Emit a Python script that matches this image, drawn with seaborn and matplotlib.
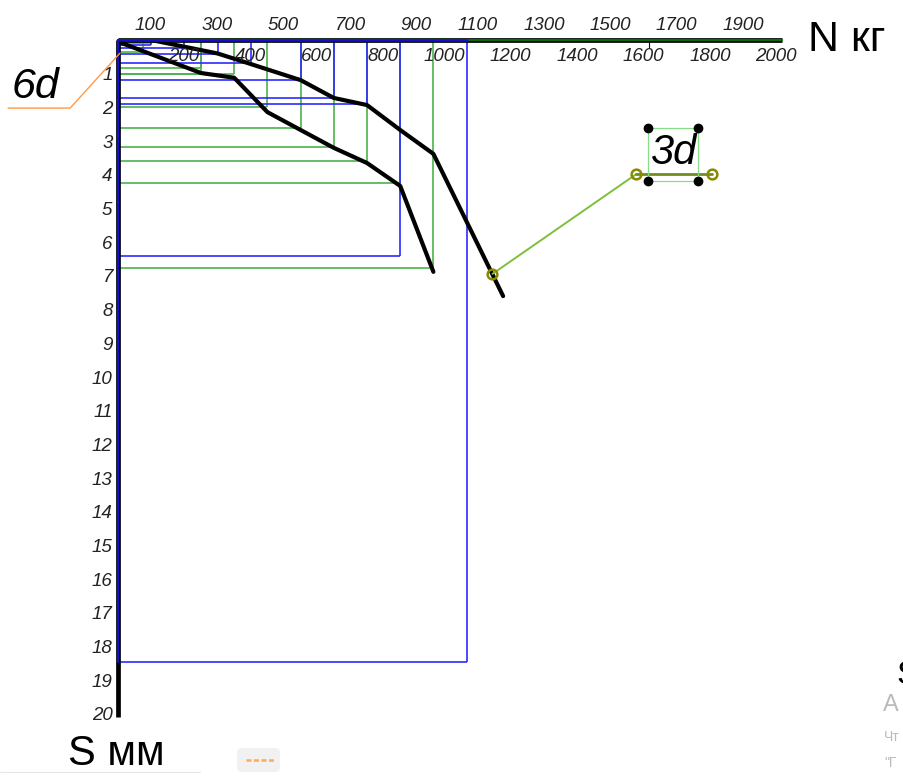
import pandas as pd
import seaborn as sns
import matplotlib.pyplot as plt
from matplotlib.patches import Rectangle, FancyBboxPatch

# кривые осадки сваи (N кг -> S мм)
load_a = [0, 250, 350, 450, 550, 650, 750, 850, 950]
settle_a = [0.05, 0.98, 1.12, 2.14, 2.67, 3.2, 3.65, 4.33, 6.88]
load_b = [0, 100, 300, 380, 550, 650, 750, 850, 950, 1160]
settle_b = [0, 0, 0.4, 0.65, 1.19, 1.72, 1.93, 2.67, 3.38, 7.6]

# проекции точек на оси
green_n = [100, 75, 250, 250, 350, 450, 550, 650, 750, 850, 950]
green_s = [0.1, 0.35, 0.83, 1.0, 1.0, 2.0, 2.6, 3.18, 3.6, 4.25, 6.77]
blue_n = [100, 200, 300, 400, 550, 650, 750, 850, 1050]
blue_s = [0.15, 0.25, 0.42, 0.68, 1.19, 1.72, 1.9, 6.4, 18.45]

x_ticks = list(range(100, 2001, 100))
y_ticks = list(range(1, 21))

sns.set_theme(style="white")
plt.rcParams["font.family"] = ["Liberation Sans", "DejaVu Sans"]

fig = plt.figure(figsize=(9.04, 7.76), dpi=100)
ax = fig.add_axes([118 / 904, 1 - 714 / 776, (782 - 118) / 904, (714 - 40) / 776])
ax.set_xlim(0, 2000)
ax.set_ylim(20, 0)
for sp in ax.spines.values():
    sp.set_visible(False)
ax.set_xticks([])
ax.set_yticks(y_ticks)
ax.set_yticklabels([str(v) for v in y_ticks], fontsize=13.5, style="italic", color="#222222")
ax.tick_params(axis="y", length=0, pad=4)
ax.set_xlabel("")
ax.set_ylabel("")

# проекционные линии
blue = "#2b2bff"
green = "#4cb34c"
ax.vlines(green_n, 0, green_s, color=green, lw=1.2, zorder=2)
ax.hlines(green_s, 0, green_n, color=green, lw=1.2, zorder=2)
ax.vlines(blue_n, 0, blue_s, color=blue, lw=1.2, zorder=3)
ax.hlines(blue_s, 0, blue_n, color=blue, lw=1.2, zorder=3)

# кривые
df_a = pd.DataFrame({"N": load_a, "S": settle_a})
df_b = pd.DataFrame({"N": load_b, "S": settle_b})
sns.lineplot(data=df_a, x="N", y="S", ax=ax, color="black", lw=3, sort=False,
             estimator=None, zorder=5)
sns.lineplot(data=df_b, x="N", y="S", ax=ax, color="black", lw=3, sort=False,
             estimator=None, zorder=5)
ax.set_xlabel("")
ax.set_ylabel("")

# оси
ax.plot([0, 2000], [0, 0], color="black", lw=3.4, clip_on=False, zorder=6,
        solid_capstyle="butt")
ax.plot([0, 2000], [0, 0], color="#0b6b0b", lw=1.6, clip_on=False, zorder=7)
ax.plot([0, 1050], [0, 0], color="#1010cc", lw=1.8, clip_on=False, zorder=8)
ax.plot([1600, 1600], [0, 0.2], color="black", lw=0.8, clip_on=False, zorder=6)
ax.plot([0, 0], [0, 20.1], color="black", lw=3.4, clip_on=False, zorder=6,
        solid_capstyle="butt")
ax.plot([0, 0], [0, 18.45], color="#1010cc", lw=1.6, clip_on=False, zorder=7)

# подписи оси N
for v in x_ticks:
    yy = -0.44 if (v // 100) % 2 == 1 else 0.5
    ax.text(v + 45, yy, str(v), ha="right", va="center", fontsize=13.5,
            style="italic", color="#222222", clip_on=False, zorder=9)

ax.text(2078, 0, "N кг", ha="left", va="center", fontsize=31, color="black",
        clip_on=False)
ax.text(-150, 21.2, "S мм", ha="left", va="center", fontsize=30, color="black",
        clip_on=False)

# выноска 6d
ax.plot([-331, -144, 6], [2.02, 2.02, 0.39], color="#ff9944", lw=1, clip_on=False,
        zorder=9)
ax.text(-322, 1.4, "6d", ha="left", va="center", fontsize=31, style="italic",
        color="black", clip_on=False)

# выноска 3d
ax.plot([1128, 1561], [6.94, 3.98], color="#7cbf3c", lw=1.4, zorder=6)
ax.plot([1561, 1790], [3.98, 3.98], color="#6e8e1e", lw=2, zorder=6)
ax.plot([1128, 1561, 1790], [6.94, 3.98, 3.98], ls="none", marker="o", ms=7,
        mfc="none", mec="#8a8a00", mew=1.8, zorder=7)
ax.add_patch(Rectangle((1597, 2.61), 150, 1.57, fill=False, ec="#88dd88", lw=0.9,
                       zorder=6))
ax.plot([1597, 1747, 1597, 1747], [2.61, 2.61, 4.18, 4.18], ls="none", marker="o",
        ms=6, color="black", zorder=8)
ax.text(1672, 3.35, "3d", ha="center", va="center", fontsize=30, style="italic",
        color="black", zorder=8)

# элементы интерфейса внизу
fig.patches.append(FancyBboxPatch((237 / 904, 1 - 772 / 776), 43 / 904, 24 / 776,
                                  boxstyle="round,pad=0,rounding_size=0.006",
                                  transform=fig.transFigure, fc="#f1f1f1", ec="none"))
fig.add_artist(plt.Line2D([246 / 904, 276 / 904], [1 - 760 / 776, 1 - 760 / 776],
                          transform=fig.transFigure, color="#ffaa55", lw=1.8,
                          ls=(0, (2, 1))))
fig.add_artist(plt.Line2D([0, 200 / 904], [1 - 772 / 776, 1 - 772 / 776],
                          transform=fig.transFigure, color="#e6e6e6", lw=0.8))
fig.text(896 / 904, 1 - 676 / 776, "S", fontsize=24, color="black", va="center")
fig.text(883 / 904, 1 - 705 / 776, "А", fontsize=17, color="#bbbbbb", va="center")
fig.text(884 / 904, 1 - 737 / 776, "Чт", fontsize=10, color="#bbbbbb", va="center")
fig.text(884 / 904, 1 - 763 / 776, "\"Г", fontsize=10, color="#bbbbbb", va="center")

fig.savefig("out.png", dpi=100)
